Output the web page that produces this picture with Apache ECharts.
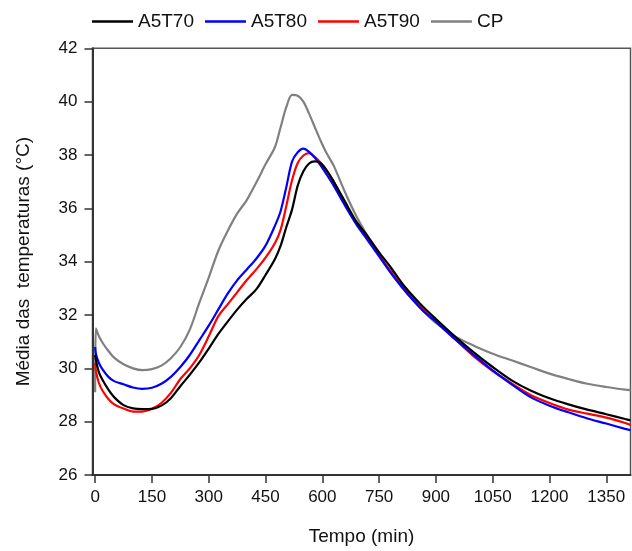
<!DOCTYPE html>
<html>
<head>
<meta charset="utf-8">
<script src="https://cdn.jsdelivr.net/npm/echarts@6/dist/echarts.min.js"></script>
<style>html,body{margin:0;padding:0;background:#fff;}#c{width:632px;height:551px;}</style>
</head>
<body>
<div id="c"></div>
<script>
const time = [0, 2, 10, 20, 35, 50, 75, 100, 125, 150, 175, 200, 225, 250, 275, 300, 325, 350, 375, 400, 425, 450, 475, 490, 505, 520, 535, 550, 565, 580, 595, 610, 630, 660, 690, 720, 750, 780, 810, 840, 870, 900, 950, 1000, 1050, 1100, 1150, 1200, 1250, 1300, 1350, 1400, 1414];
const a5t70 = [30.5, 30.3, 29.85, 29.55, 29.2, 28.92, 28.62, 28.5, 28.47, 28.48, 28.6, 28.88, 29.33, 29.76, 30.22, 30.74, 31.28, 31.75, 32.2, 32.6, 32.95, 33.5, 34.1, 34.6, 35.3, 35.95, 36.85, 37.39, 37.68, 37.76, 37.7, 37.45, 37.0, 36.25, 35.5, 34.95, 34.35, 33.8, 33.2, 32.7, 32.25, 31.85, 31.2, 30.6, 30.05, 29.55, 29.17, 28.88, 28.65, 28.45, 28.28, 28.1, 28.05];
const a5t80 = [30.8, 30.55, 30.2, 29.95, 29.68, 29.52, 29.4, 29.28, 29.23, 29.27, 29.42, 29.68, 30.05, 30.5, 31.05, 31.6, 32.2, 32.8, 33.3, 33.7, 34.1, 34.6, 35.35, 35.9, 36.8, 37.75, 38.1, 38.24, 38.12, 37.9, 37.62, 37.3, 36.85, 36.1, 35.4, 34.8, 34.2, 33.6, 33.05, 32.55, 32.1, 31.75, 31.1, 30.5, 29.92, 29.4, 28.92, 28.6, 28.35, 28.12, 27.93, 27.73, 27.68];
const a5t90 = [30.2, 29.9, 29.45, 29.15, 28.85, 28.65, 28.49, 28.38, 28.38, 28.48, 28.7, 29.08, 29.6, 30.0, 30.5, 31.2, 31.95, 32.4, 32.85, 33.3, 33.7, 34.15, 34.7, 35.2, 36.1, 37.05, 37.7, 37.98, 38.07, 37.93, 37.72, 37.45, 37.0, 36.15, 35.45, 34.85, 34.25, 33.65, 33.1, 32.6, 32.15, 31.75, 31.1, 30.45, 29.9, 29.43, 29.0, 28.7, 28.45, 28.3, 28.15, 27.95, 27.88];
const cp    = [29.1, 31.5, 31.2, 30.95, 30.65, 30.4, 30.15, 30.0, 29.93, 29.97, 30.1, 30.38, 30.8, 31.45, 32.45, 33.4, 34.4, 35.15, 35.8, 36.3, 36.95, 37.65, 38.3, 39.05, 39.8, 40.25, 40.22, 40.0, 39.55, 39.05, 38.55, 38.1, 37.6, 36.6, 35.7, 34.95, 34.25, 33.6, 33.05, 32.55, 32.1, 31.7, 31.2, 30.85, 30.55, 30.3, 30.05, 29.8, 29.6, 29.42, 29.3, 29.2, 29.18];
const seriesNames = ['A5T70', 'A5T80', 'A5T90', 'CP'];
const xTicks = [0, 150, 300, 450, 600, 750, 900, 1050, 1200, 1350];
const yTicks = [26, 28, 30, 32, 34, 36, 38, 40, 42];

const FONT = '"Liberation Sans", Arial, sans-serif';
const colors = ['#000000', '#0000ff', '#ff0000', '#808080'];
const values = [a5t70, a5t80, a5t90, cp];

const chart = echarts.init(document.getElementById('c'), null, {renderer: 'canvas'});
chart.setOption({
  animation: false,
  backgroundColor: '#ffffff',
  textStyle: {fontFamily: FONT},
  legend: {
    data: seriesNames.map((n, k) => ({name: n, icon: 'rect', itemStyle: {color: colors[k]}})),
    left: 92, top: 12,
    itemWidth: 41, itemHeight: 2.5, itemGap: 11,
    padding: 0,
    textStyle: {fontSize: 19, color: '#111', fontFamily: FONT}
  },
  grid: {
    left: 92.5, right: 1.5, top: 48.3, bottom: 68.5,
    show: true, borderColor: '#555', borderWidth: 1.5, backgroundColor: 'transparent'
  },
  xAxis: {
    type: 'value', min: -7, max: 1414,
    name: 'Tempo (min)', nameLocation: 'middle', nameGap: 52,
    nameTextStyle: {fontSize: 19, color: '#111', fontFamily: FONT},
    axisLine: {show: true, onZero: false, lineStyle: {color: '#333', width: 2}},
    axisTick: {show: true, inside: false, length: 8, customValues: xTicks, lineStyle: {color: '#333', width: 1.5}},
    axisLabel: {customValues: xTicks, fontSize: 17, color: '#111', margin: 14, fontFamily: FONT, formatter: v => String(v)},
    splitLine: {show: false}
  },
  yAxis: {
    type: 'value', min: yTicks[0], max: yTicks[yTicks.length - 1], interval: 2,
    name: 'Média das  temperaturas (°C)', nameLocation: 'middle', nameGap: 59,
    nameTextStyle: {fontSize: 19, color: '#111', fontFamily: FONT},
    axisLine: {show: true, onZero: false, lineStyle: {color: '#333', width: 2}},
    axisTick: {show: true, inside: false, length: 8, lineStyle: {color: '#333', width: 1.5}},
    axisLabel: {fontSize: 17, color: '#111', margin: 15, fontFamily: FONT, formatter: v => String(v)},
    splitLine: {show: false}
  },
  series: seriesNames.map((n, k) => ({
    name: n, type: 'line', symbol: 'none', smooth: 0.3,
    clip: true,
    lineStyle: {color: colors[k], width: 2.2},
    itemStyle: {color: colors[k]},
    z: k === 3 ? 1 : 4 - k,
    data: time.map((t, i) => [t, values[k][i]])
  }))
});
</script>
</body>
</html>
